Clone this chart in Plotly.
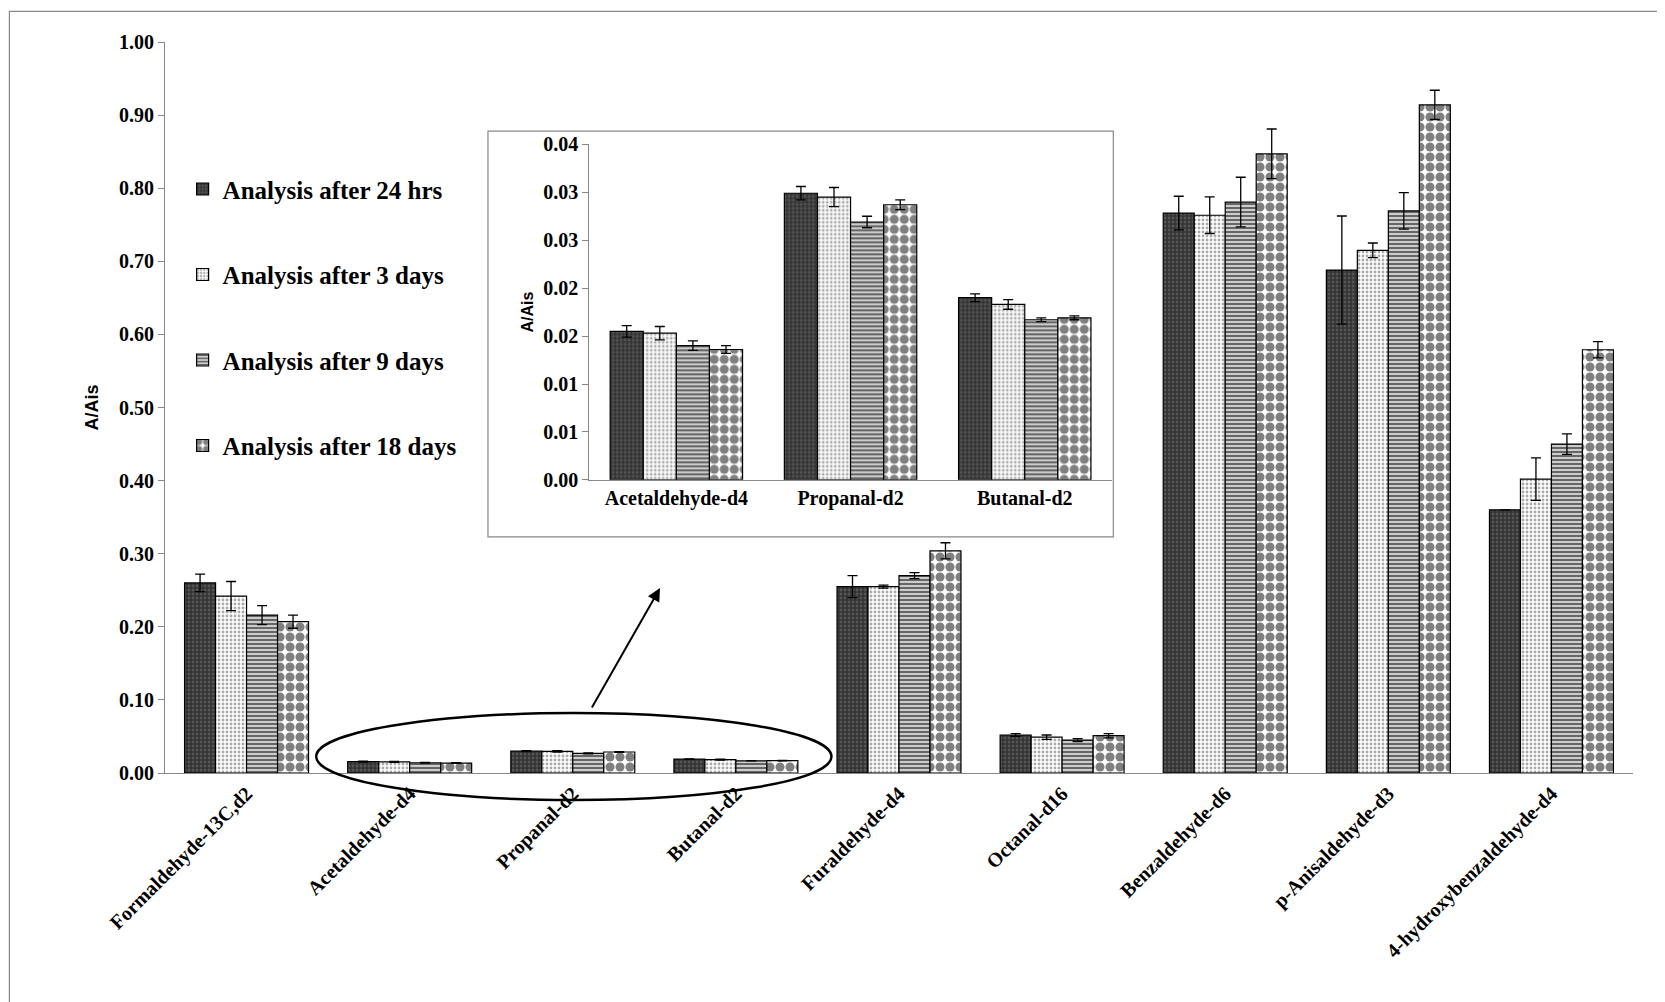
import plotly.graph_objects as go

categories = ["Formaldehyde-13C,d2", "Acetaldehyde-d4", "Propanal-d2", "Butanal-d2",
              "Furaldehyde-d4", "Octanal-d16", "Benzaldehyde-d6", "p-Anisaldehyde-d3",
              "4-hydroxybenzaldehyde-d4"]
series_names = ["Analysis after 24 hrs", "Analysis after 3 days",
                "Analysis after 9 days", "Analysis after 18 days"]
v24h = [0.260, 0.0155, 0.0299, 0.0190, 0.255, 0.052, 0.766, 0.688, 0.360]
v3d = [0.242, 0.0153, 0.0295, 0.0183, 0.255, 0.049, 0.763, 0.715, 0.402]
v9d = [0.216, 0.0140, 0.0269, 0.0167, 0.270, 0.045, 0.781, 0.769, 0.450]
v18d = [0.207, 0.0136, 0.0287, 0.0169, 0.304, 0.051, 0.847, 0.914, 0.579]
e24h = [0.012, 0.0006, 0.0007, 0.0004, 0.015, 0.002, 0.023, 0.074, 0.0]
e3d = [0.020, 0.0007, 0.0010, 0.0005, 0.002, 0.003, 0.025, 0.010, 0.029]
e9d = [0.013, 0.0005, 0.0006, 0.0002, 0.004, 0.002, 0.034, 0.025, 0.014]
e18d = [0.009, 0.0004, 0.0005, 0.0002, 0.011, 0.003, 0.034, 0.020, 0.011]
inset_idx = [1, 2, 3]
inset_tickvals = [0, 0.005, 0.01, 0.015, 0.02, 0.025, 0.03, 0.035]
inset_ticktext = ["0.00", "0.01", "0.01", "0.02", "0.02", "0.03", "0.03", "0.04"]

values = [v24h, v3d, v9d, v18d]
errors = [e24h, e3d, e9d, e18d]
patterns = [
    dict(shape="+", fgcolor="black", bgcolor="#555555", size=4, solidity=0.5),
    dict(shape=".", fgcolor="#555555", bgcolor="white", size=4, solidity=0.4),
    dict(shape="-", fgcolor="black", bgcolor="#cccccc", size=4, solidity=0.5),
    dict(shape=".", fgcolor="black", bgcolor="white", size=10, solidity=0.65),
]

serif = "Liberation Serif"
fig = go.Figure()
for i in range(4):
    fig.add_trace(go.Bar(
        x=categories, y=values[i], name=series_names[i], legendgroup=str(i),
        marker=dict(color="white", pattern=patterns[i], line=dict(color="black", width=1.2)),
        error_y=dict(type="data", array=errors[i], color="black", thickness=1.3, width=5),
        xaxis="x", yaxis="y"))
for i in range(4):
    fig.add_trace(go.Bar(
        x=[categories[k] for k in inset_idx], y=[values[i][k] for k in inset_idx],
        showlegend=False, legendgroup=str(i),
        marker=dict(color="white", pattern=patterns[i], line=dict(color="black", width=1.2)),
        error_y=dict(type="data", array=[errors[i][k] for k in inset_idx], color="black",
                     thickness=1.3, width=5),
        xaxis="x2", yaxis="y2"))

tickfont = dict(family=serif, size=20, color="black", weight="bold")
fig.update_layout(
    width=1665, height=1002, plot_bgcolor="white", paper_bgcolor="white",
    margin=dict(l=157, r=40, t=34, b=237),
    barmode="group", bargap=0.24, bargroupgap=0,
    xaxis=dict(domain=[0, 1], range=[-0.5, 8.5], tickangle=-45, tickfont=tickfont,
               showline=True, linecolor="#888888", ticks="outside", ticklen=0,
               showgrid=False),
    yaxis=dict(domain=[0, 1], range=[0, 1.0], dtick=0.1, tickformat=".2f", tickfont=tickfont,
               showline=True, linecolor="#888888", ticks="outside", tickcolor="#888888",
               ticklen=6, showgrid=False, zeroline=False,
               title=dict(text="<b>A/Ais</b>", font=dict(family="Liberation Sans", size=18, color="black"))),
    xaxis2=dict(domain=[0.289, 0.645], anchor="y2", tickfont=tickfont, showline=True,
                linecolor="#888888", ticks="outside", tickcolor="#888888", ticklen=0,
                showgrid=False, range=[-0.5, 2.5]),
    yaxis2=dict(domain=[0.401, 0.860], anchor="x2", range=[0, 0.035], tickvals=inset_tickvals,
                ticktext=inset_ticktext, tickfont=tickfont, showline=True, linecolor="#888888",
                ticks="outside", tickcolor="#888888", ticklen=6, showgrid=False, zeroline=False,
                title=dict(text="<b>A/Ais</b>", font=dict(family="Liberation Sans", size=16, color="black"),
                           standoff=5)),
    legend=dict(x=0.012, y=0.83, xanchor="left", yanchor="top", tracegroupgap=50,
                font=dict(family=serif, size=25, color="black", weight="bold"),
                bgcolor="rgba(0,0,0,0)", itemwidth=30),
    showlegend=True,
)
fig.add_shape(type="rect", xref="paper", yref="paper", x0=0.220, x1=0.646, y0=0.323, y1=0.878,
              line=dict(color="#888888", width=1.2), fillcolor="white", layer="below")
fig.add_shape(type="circle", xref="paper", yref="paper", x0=0.103, x1=0.454, y0=-0.037, y1=0.082,
              line=dict(color="black", width=2.5))
fig.add_shape(type="rect", xref="paper", yref="paper", x0=-0.106, x1=1.025, y0=-0.32, y1=1.042,
              line=dict(color="#888888", width=1.2))
fig.add_annotation(x=2.535, y=0.253, ax=2.112, ay=0.0876, xref="x", yref="y", axref="x", ayref="y",
                   showarrow=True, arrowhead=2, arrowsize=1.3, arrowwidth=2, arrowcolor="black", text="")
fig.write_html("out.html")
